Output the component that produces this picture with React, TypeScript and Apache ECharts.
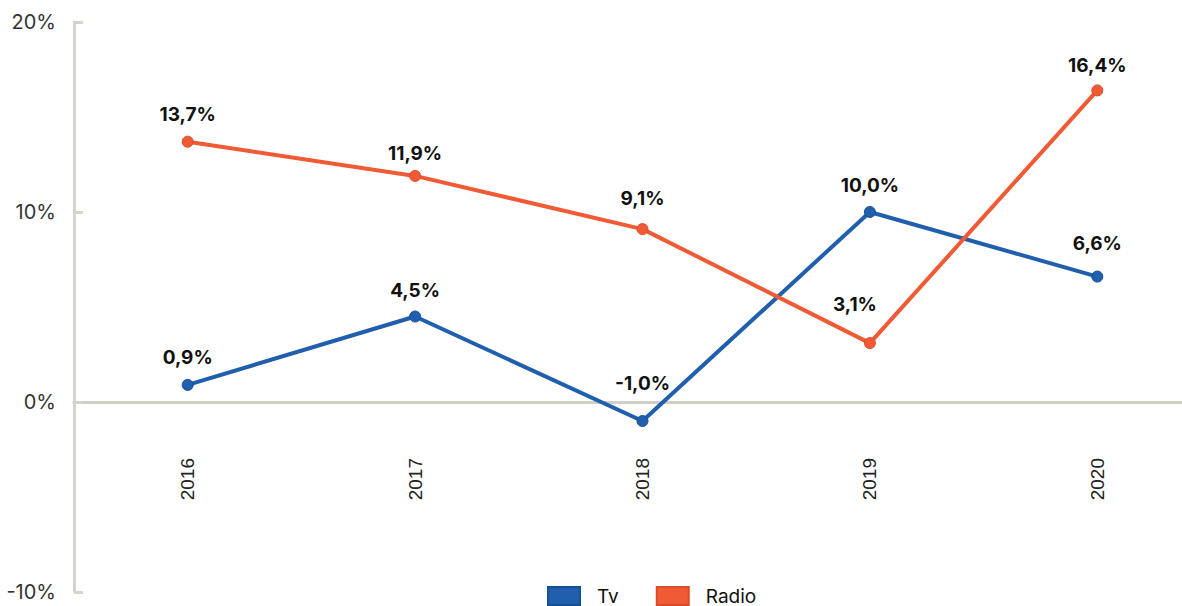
import React, { useEffect, useRef } from "react";
import * as echarts from "echarts";

const years = ["2016", "2017", "2018", "2019", "2020"];
const tvValues = [0.9, 4.5, -1.0, 10.0, 6.6];
const radioValues = [13.7, 11.9, 9.1, 3.1, 16.4];
const yTicks = { min: -10, max: 20, interval: 10 };

// label placement tweaks (style only)
const tvLabelDist = [12, 11, 22, 11, 18];
const radioLabelDist = [12, 7, 15, 23, 9];
const radioLabelShiftX = [0, 0, 0, -15, 0];

const fmt = (v: number) => v.toFixed(1).replace(".", ",") + "%";

export default function App() {
  const ref = useRef<HTMLDivElement>(null);
  useEffect(() => {
    if (!ref.current) return;
    document.documentElement.style.overflow = "hidden";
    document.body.style.overflow = "hidden";
    document.body.style.margin = "0";
    const chart = echarts.init(ref.current, undefined, { renderer: "svg" });
    const labelStyle = {
      show: true,
      position: "top" as const,
      distance: 12,
      fontFamily: "Inter",
      fontWeight: "bold" as const,
      fontSize: 19,
      color: "#111",
      formatter: (p: any) => fmt(p.value),
    };
    const tvData = tvValues.map((v, i) => ({ value: v, label: { distance: tvLabelDist[i] } }));
    const radioData = radioValues.map((v, i) => ({
      value: v,
      label: { distance: radioLabelDist[i], offset: [radioLabelShiftX[i], 0] },
    }));
    chart.setOption({
      animation: false,
      backgroundColor: "#fff",
      grid: { left: 74, top: 22, height: 570, width: 1137, containLabel: false, outerBoundsMode: "none" },
      legend: {
        top: 581,
        left: 542,
        itemWidth: 32,
        itemHeight: 18,
        itemGap: 37,
        icon: "rect",
        textStyle: { fontFamily: "Inter", fontSize: 19, color: "#111", padding: [0, 0, 0, 12] },
        data: ["Tv", "Radio"],
      },
      xAxis: [
        {
          type: "category",
          data: years,
          boundaryGap: true,
          axisLine: { onZero: true, lineStyle: { color: "#cfcfc6", width: 3 } },
          axisTick: { show: false },
          axisLabel: { show: false },
        },
        {
          type: "category",
          data: years,
          boundaryGap: true,
          position: "bottom",
          offset: -190,
          axisLine: { show: false },
          axisTick: { show: false },
          axisLabel: {
            rotate: 90,
            margin: 56,
            fontFamily: "Liberation Sans",
            fontSize: 19,
            color: "#222",
          },
        },
      ],
      yAxis: {
        type: "value",
        min: yTicks.min,
        max: yTicks.max,
        interval: yTicks.interval,
        splitLine: { show: false },
        axisLine: { show: true, lineStyle: { color: "#d4d4cc", width: 3 } },
        axisTick: { show: true, inside: true, length: 9, lineStyle: { color: "#d4d4cc", width: 3 } },
        axisLabel: {
          margin: 18,
          fontFamily: "Inter",
          fontSize: 20,
          color: "#333",
          formatter: (v: number) => v + "%",
        },
      },
      series: [
        {
          name: "Tv",
          type: "line",
          data: tvData,
          symbol: "circle",
          symbolSize: 11,
          color: "#1f5fad",
          lineStyle: { width: 4, color: "#1f5fad" },
          itemStyle: { color: "#1f5fad", borderColor: "#174f93", borderWidth: 1 },
          label: labelStyle,
          emphasis: { disabled: true },
          z: 2,
        },
        {
          name: "Radio",
          type: "line",
          data: radioData,
          symbol: "circle",
          symbolSize: 11,
          color: "#f05a34",
          lineStyle: { width: 4, color: "#f05a34" },
          itemStyle: { color: "#f05a34", borderColor: "#d84c2a", borderWidth: 1 },
          label: labelStyle,
          emphasis: { disabled: true },
          z: 3,
        },
      ],
    });
    return () => chart.dispose();
  }, []);
  return (
    <div
      ref={ref}
      style={{ position: "fixed", left: 0, top: 0, width: 1182, height: 606, background: "#fff" }}
    />
  );
}
